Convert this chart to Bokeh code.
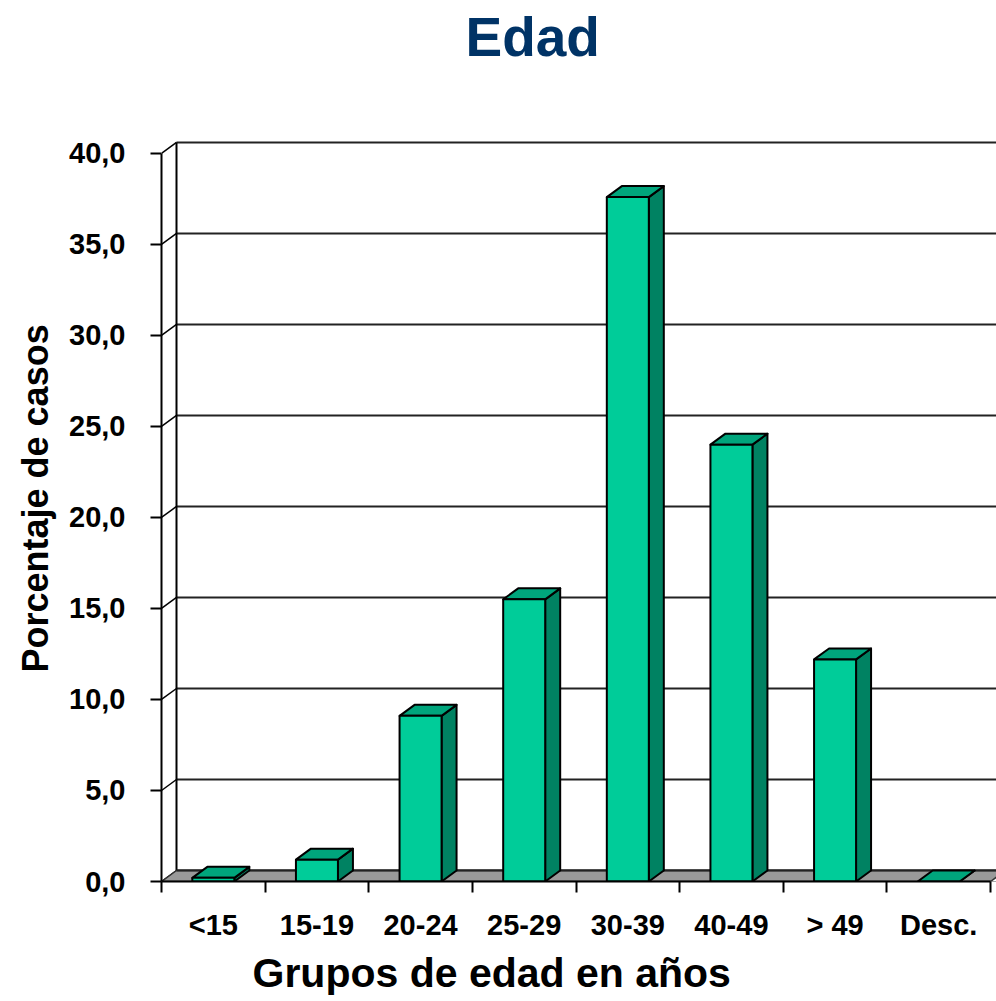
import math
from bokeh.plotting import figure
from bokeh.models import FixedTicker, CustomJSTickFormatter, Title, Range1d
from bokeh.embed import file_html
from bokeh.resources import INLINE

# ---- data ----
categories = ["<15", "15-19", "20-24", "25-29", "30-39", "40-49", "> 49", "Desc."]
values = [0.2, 1.2, 9.1, 15.5, 37.6, 24.0, 12.2, 0.0]
y_ticks = [0, 5, 10, 15, 20, 25, 30, 35, 40]
title_text = "Edad"
y_title = "Porcentaje de casos"
x_title = "Grupos de edad en años"

FONT = "Liberation Sans"
FRONT = "#00CC99"
TOP = "#00A57C"
SIDE = "#008262"
FLOOR = "#999999"

W, H = 996, 1000
left_b, top_b = 161, 70
bottom_b = H - 882
frame_w = W - left_b
frame_h = H - bottom_b - top_b
px_x = 103.625          # px per category
px_y = 729 / 40.0       # px per percent
x_end = frame_w / px_x
y_end = frame_h / px_y
ddx = 15 / px_x         # depth offset
ddy = 11 / px_y
n = len(categories)

p = figure(width=W, height=H, output_backend="svg", toolbar_location=None,
           x_range=Range1d(0, x_end), y_range=Range1d(0, y_end),
           min_border_left=left_b, min_border_right=0,
           min_border_bottom=bottom_b, min_border_top=top_b)
p.outline_line_color = None
p.xgrid.visible = False
p.ygrid.visible = False
p.background_fill_color = "white"

# back wall gridlines
gx0 = [ddx] * len(y_ticks)
gx1 = [x_end + 1] * len(y_ticks)
gy = [v + ddy for v in y_ticks]
p.segment(gx0, gy, gx1, gy, line_color="#222222", line_width=2)
# left wall back edge + connectors
p.segment([ddx], [ddy], [ddx], [y_ticks[-1] + ddy], line_color="black", line_width=2)
p.segment([0] * len(y_ticks), y_ticks, gx0, gy, line_color="black", line_width=1.5)

# floor
p.patch([0, x_end + 1, x_end + 1, ddx], [0, 0, ddy, ddy],
        fill_color=FLOOR, line_color="#333333", line_width=1.5)
p.patch([n, x_end + 1, x_end + 1, n + ddx], [0, 0, ddy, ddy],
        fill_color="white", line_color=None)
p.segment([n], [0], [n + ddx], [ddy], line_color="#333333", line_width=1.5)
p.segment([ddx], [ddy], [x_end + 1], [ddy], line_color="#222222", line_width=2)

# bars
hw = 21 / px_x
for i, v in enumerate(values):
    c = i + 0.5
    p.patch([c + hw, c + hw + ddx, c + hw + ddx, c + hw],
            [0, ddy, v + ddy, v], fill_color=SIDE, line_color="black", line_width=2,
            line_join="round")
    p.patch([c - hw, c + hw, c + hw + ddx, c - hw + ddx],
            [v, v, v + ddy, v + ddy], fill_color=TOP, line_color="black", line_width=2,
            line_join="round")
    if v > 0:
        p.quad(left=[c - hw], right=[c + hw], bottom=[0], top=[v],
               fill_color=FRONT, line_color="black", line_width=2)

# axes
ya = p.yaxis[0]
ya.ticker = FixedTicker(ticks=y_ticks, minor_ticks=[])
ya.formatter = CustomJSTickFormatter(code="return tick.toFixed(1).replace('.', ',');")
ya.bounds = (0, 40)
ya.axis_line_color = "black"
ya.axis_line_width = 2
ya.major_tick_out = 11
ya.major_tick_in = 0
ya.major_tick_line_width = 2
ya.major_tick_line_color = "black"
ya.major_label_standoff = 25
ya.major_label_text_font = FONT
ya.major_label_text_font_style = "bold"
ya.major_label_text_font_size = "29px"
ya.major_label_text_color = "black"

xa = p.xaxis[0]
xa.ticker = FixedTicker(ticks=[i + 0.5 for i in range(n)], minor_ticks=list(range(n + 1)))
xa.formatter = CustomJSTickFormatter(args=dict(labels=categories),
                                     code="return labels[Math.round(tick - 0.5)];")
xa.bounds = (0, n)
xa.axis_line_color = "black"
xa.axis_line_width = 2
xa.major_tick_out = 0
xa.major_tick_in = 0
xa.minor_tick_out = 11
xa.minor_tick_in = 0
xa.minor_tick_line_width = 2
xa.minor_tick_line_color = "black"
xa.major_label_standoff = 16
xa.major_label_text_font = FONT
xa.major_label_text_font_style = "bold"
xa.major_label_text_font_size = "29px"
xa.major_label_text_color = "black"

# titles
p.add_layout(Title(text=title_text, align="left", offset=304, standoff=5,
                   text_font=FONT, text_font_style="bold", text_font_size="55px",
                   text_color="#003366"), "above")
p.add_layout(Title(text=x_title, align="left", offset=91, standoff=9,
                   text_font=FONT, text_font_style="bold", text_font_size="41px",
                   text_color="black"), "below")
p.add_layout(Title(text=y_title, align="left", offset=209, standoff=22,
                   text_font=FONT, text_font_style="bold", text_font_size="36px",
                   text_color="black"), "left")

open("out.html", "w").write(file_html(p, INLINE))
